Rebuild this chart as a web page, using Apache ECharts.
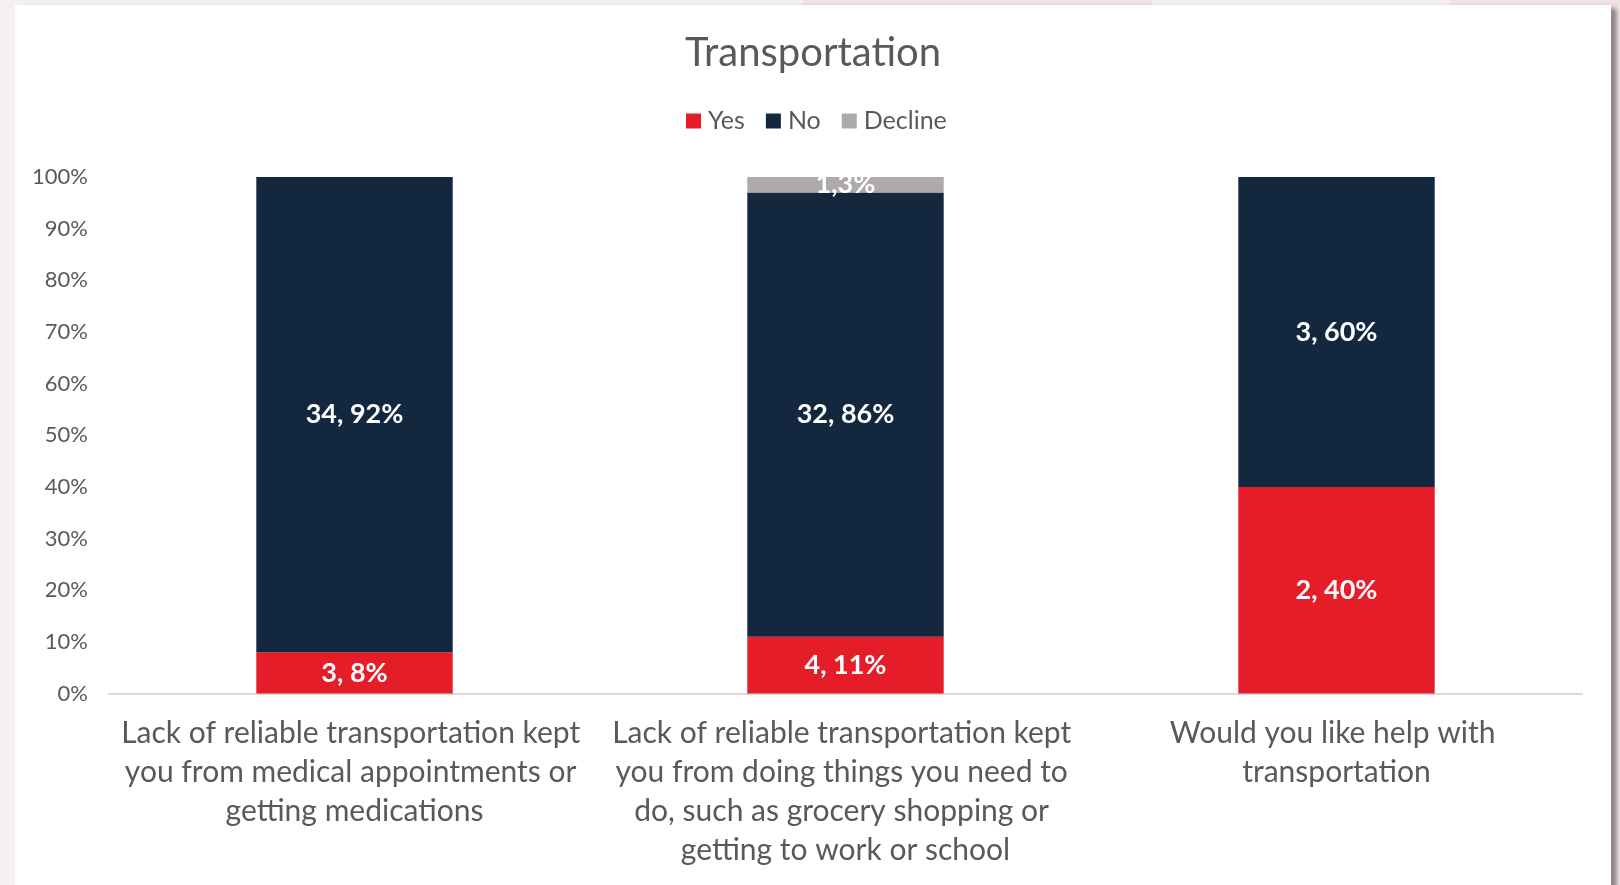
<!DOCTYPE html>
<html>
<head>
<meta charset="utf-8">
<title>Transportation</title>
<script src="https://cdn.jsdelivr.net/npm/echarts@6/dist/echarts.min.js"></script>
<style>
  html, body { margin: 0; padding: 0; width: 1620px; height: 885px; overflow: hidden; background: #f6f0f0; }
  .band { position: absolute; top: 0; height: 6px; background: #f1e3e4; }
  #card { position: absolute; left: 15px; top: 5px; width: 1596px; height: 900px; background: #ffffff;
          box-shadow: 7px 2px 5px -1px rgba(110, 92, 95, 0.75); }
  #chart { position: absolute; left: 0; top: 0; width: 1620px; height: 885px; }
</style>
</head>
<body>
<div class="band" style="left:803px;width:349px"></div>
<div class="band" style="left:1450px;width:170px"></div>
<div id="card"></div>
<div id="chart"></div>
<script>
// Survey questions on the category axis
const categories = [
  'Lack of reliable transportation kept you from medical appointments or getting medications',
  'Lack of reliable transportation kept you from doing things you need to do, such as grocery shopping or getting to work or school',
  'Would you like help with transportation'
];

// Response counts per answer
const yesCount = [3, 4, 2];
const noCount = [34, 32, 3];
const declineCount = [null, 1, null];

// Share of responses per answer (percent of each question)
const yesPct = [8, 11, 40];
const noPct = [92, 86, 60];
const declinePct = [null, 3, null];

// Value axis ticks
const yTicks = [0, 10, 20, 30, 40, 50, 60, 70, 80, 90, 100];

const FONT = 'Lato, "Open Sans", sans-serif';
const TEXT_GREY = '#595959';

function makeSeries(name, pct, counts, color, sep) {
  return {
    name: name,
    type: 'bar',
    stack: 'total',
    barCategoryGap: '60%',
    data: pct,
    itemStyle: { color: color },
    emphasis: { disabled: true },
    label: {
      show: true,
      position: 'inside',
      color: '#ffffff',
      fontFamily: FONT,
      fontWeight: 'bold',
      fontSize: 27,
      formatter: function (p) {
        if (p.value == null) return '';
        return counts[p.dataIndex] + sep + p.value + '%';
      }
    }
  };
}

const chart = echarts.init(document.getElementById('chart'), null, { renderer: 'canvas' });
chart.setOption({
  backgroundColor: 'transparent',
  animation: false,
  title: {
    text: 'Transportation',
    left: 808,
    textAlign: 'center',
    top: 26,
    textStyle: { fontFamily: FONT, fontSize: 40, fontWeight: 'normal', color: TEXT_GREY, lineHeight: 44 }
  },
  legend: {
    left: 686,
    top: 108,
    padding: 0,
    itemWidth: 15,
    itemHeight: 15,
    itemGap: 21,
    icon: 'rect',
    textStyle: { fontFamily: FONT, fontSize: 25, color: TEXT_GREY, lineHeight: 26, padding: [0, 0, 0, 2] },
    data: ['Yes', 'No', 'Decline']
  },
  grid: { left: 109, right: 38, top: 177, bottom: 191.5, containLabel: false },
  xAxis: {
    type: 'category',
    data: categories,
    axisLine: { lineStyle: { color: '#d9d9d9', width: 2 } },
    axisTick: { show: false },
    axisLabel: {
      interval: 0,
      margin: 20,
      fontFamily: FONT,
      fontSize: 30,
      lineHeight: 39,
      color: TEXT_GREY,
      width: 472,
      overflow: 'break',
      align: 'center',
      verticalAlign: 'top'
    }
  },
  yAxis: {
    type: 'value',
    min: yTicks[0],
    max: yTicks[yTicks.length - 1],
    interval: yTicks[1] - yTicks[0],
    splitLine: { show: false },
    axisLine: { show: false },
    axisTick: { show: false },
    axisLabel: {
      margin: 21,
      fontFamily: FONT,
      fontSize: 22,
      color: TEXT_GREY,
      formatter: function (v) { return v + '%'; }
    }
  },
  series: [
    makeSeries('Yes', yesPct, yesCount, '#e41d29', ', '),
    makeSeries('No', noPct, noCount, '#13283f', ', '),
    makeSeries('Decline', declinePct, declineCount, '#aeaaaa', ',')
  ]
});
</script>
</body>
</html>
